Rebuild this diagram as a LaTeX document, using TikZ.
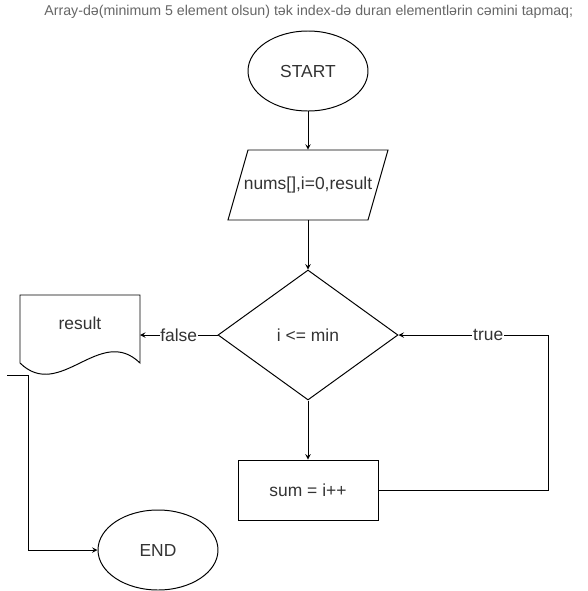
\documentclass[tikz,border=0pt]{standalone}
\usepackage{fontspec}
\setmainfont{Liberation Sans}
\usepackage{tikz}
\usetikzlibrary{shapes,backgrounds}
\pgfdeclarelayer{edgelayer}
\pgfdeclarelayer{nodelayer}
\pgfsetlayers{edgelayer,nodelayer,main}
\definecolor{txtgrey}{rgb}{0.2,0.2,0.2}
\definecolor{titlegrey}{rgb}{0.4,0.4,0.4}
\tikzstyle{none}=[inner sep=0pt]
\tikzstyle{empty}=[fill=none,draw=none,text=txtgrey,font=\fontsize{12.4}{14}\selectfont]
\tikzstyle{label}=[fill=white,draw=none,inner sep=0.5pt,text=txtgrey,font=\fontsize{12.4}{14}\selectfont]
\tikzstyle{terminal}=[ellipse,draw=black,line width=0.7,minimum width=3cm,minimum height=2cm,text=txtgrey,font=\fontsize{12.4}{14}\selectfont]
\tikzstyle{io}=[rectangle,draw=none,minimum width=3.5cm,minimum height=1.75cm,inner sep=0pt,text=txtgrey,font=\fontsize{12.4}{14}\selectfont]
\tikzstyle{decision}=[diamond,aspect=1.38,draw=black,line width=0.7,minimum width=4.5cm,minimum height=3.25cm,inner sep=0pt,text=txtgrey,font=\fontsize{12.4}{14}\selectfont]
\tikzstyle{process}=[rectangle,draw=black,line width=0.7,minimum width=3.5cm,minimum height=1.5cm,text=txtgrey,font=\fontsize{12.4}{14}\selectfont]
\tikzstyle{simple}=[-,draw=black,line width=0.7]
\tikzstyle{inarrow}=[->, >=stealth, line width=0.7]

\begin{document}
\begin{tikzpicture}
	\useasboundingbox (0,0) rectangle (14.7,-14.775);
	\begin{pgfonlayer}{nodelayer}
		\node [style=empty,text=titlegrey,font=\fontsize{10.1}{12}\selectfont] (title) at (7.72,-0.3) {Array-də(minimum 5 element olsun) tək index-də duran elementlərin cəmini tapmaq;};
		\node [style=terminal] (start) at (7.7,-1.775) {START};
		\node [style=io] (input) at (7.7,-4.625) {nums[],i=0,result};
		\node [style=decision] (cond) at (7.7,-8.375) {i <= min};
		\node [style=process] (sum) at (7.7,-12.25) {sum = i++};
		\node [style=terminal] (end) at (3.95,-13.75) {END};
		\node [style=empty] (res) at (2,-8.075) {result};
		\node [style=none] (ITL) at (6.2,-3.75) {};
		\node [style=none] (ITR) at (9.7,-3.75) {};
		\node [style=none] (IBR) at (9.2,-5.5) {};
		\node [style=none] (IBL) at (5.7,-5.5) {};
		\node [style=none] (DTL) at (0.5,-7.375) {};
		\node [style=none] (DTR) at (3.5,-7.375) {};
		\node [style=none] (DBR) at (3.5,-9.075) {};
		\node [style=none] (DBL) at (0.5,-9.075) {};
		\node [style=none] (DR) at (3.5,-8.375) {};
		\node [style=none] (loopB) at (13.7,-12.25) {};
		\node [style=none] (loopT) at (13.7,-8.375) {};
		\node [style=none] (LS) at (0.175,-9.375) {};
		\node [style=none] (LC) at (0.7,-9.375) {};
		\node [style=none] (LD) at (0.7,-13.75) {};
		\draw [style=simple] (ITL.center) to (ITR.center) to (IBR.center) to (IBL.center) -- cycle;
		\draw [style=simple] (DBL.center) to (DTL.center) to (DTR.center) to (DBR.center) .. controls (2.5,-8.1) and (1.5,-10.05) .. (DBL.center);
	\end{pgfonlayer}
	\begin{pgfonlayer}{edgelayer}
		\draw [style=inarrow] (start) to (input);
		\draw [style=inarrow] (input) to (cond);
		\draw [style=inarrow] (cond) to (sum);
		\draw [style=inarrow] (cond) to node [style=label] {false} (DR.center);
		\draw [style=inarrow] (sum) to (loopB.center) to (loopT.center) to node [style=label,pos=0.4] {true} (cond);
		\draw [style=inarrow] (LS.center) to (LC.center) to (LD.center) to (end);
	\end{pgfonlayer}
\end{tikzpicture}
\end{document}
